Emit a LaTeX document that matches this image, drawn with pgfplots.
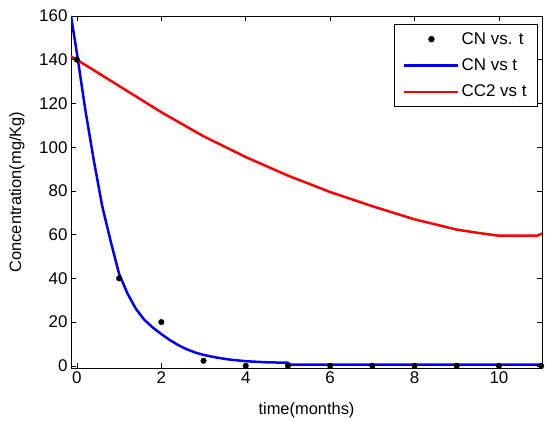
\documentclass[border=0pt]{standalone}
\usepackage{fontspec}
\setmainfont{Liberation Sans}
\usepackage{pgfplots}
\pgfplotsset{compat=1.18}

\begin{document}
\begin{tikzpicture}
\useasboundingbox (-71bp,-54bp) rectangle (474bp,368bp);
\begin{axis}[
  scale only axis,
  width=471bp, height=352bp,
  xmin=-0.14, xmax=11.02,
  ymin=-1, ymax=160,
  xtick={0,2,...,10},
  ytick={0,20,...,160},
  tick align=inside,
  major tick length=5bp,
  axis line style={line width=0.9pt},
  tick style={line width=0.6pt, black},
  /pgf/number format/assume math mode=true,
  ticklabel style={font=\fontsize{17}{20}\selectfont},
  label style={font=\fontsize{16.5}{20}\selectfont},
  xlabel={time(months)},
  ylabel={Concentration(mg/Kg)},
  xlabel style={at={(axis description cs:0.5,-0.119)}, anchor=center},
  ylabel style={at={(axis description cs:-0.115,0.5)}, anchor=center},
  legend style={at={(0.9915,0.977)}, anchor=north east, draw=black, line width=0.8pt,
    font=\fontsize{17}{20}\selectfont, row sep=9bp, inner xsep=9bp, inner ysep=6bp},
  legend cell align=left,
  legend image code/.code={
    \draw[mark repeat=2, mark phase=2, #1]
      plot coordinates {(0bp,0bp) (27bp,0bp) (54bp,0bp)};
  },
  every axis legend/.append style={/tikz/every even column/.append style={column sep=16bp}},
]
\addplot[only marks, mark=*, mark size=2.8pt, black] coordinates {
  (0,140) (1,40) (2,20) (3,2.3) (4,0) (5,0) (6,0) (7,0) (8,0) (9,0) (10,0) (11,0)
};
\addlegendentry{CN vs. t}
\addplot[blue, line width=2.5pt] coordinates {
  (-0.14,160) (0,143) (0.2,117) (0.4,94) (0.6,73) (0.8,57) (1.0,42) (1.2,33)
  (1.4,26) (1.6,21) (1.8,17.5) (2.0,14.5) (2.2,11.8) (2.4,9.5) (2.6,7.6)
  (2.8,6.1) (3.0,5.0) (3.3,3.8) (3.6,2.9) (4.0,2.1) (4.5,1.6) (5.0,1.4)
  (5.05,0.5) (11.02,0.5)
};
\addlegendentry{CN vs t}
\addplot[red, line width=2.5pt] coordinates {
  (-0.14,141.5) (0,140) (1,128) (2,116) (3,105) (4,95.5) (5,87) (6,79.5)
  (7,73) (8,67) (9,62.3) (9.5,60.8) (10,59.5) (10.9,59.5) (11.02,60.5)
};
\addlegendentry{CC2 vs t}
\end{axis}
\end{tikzpicture}
\end{document}
